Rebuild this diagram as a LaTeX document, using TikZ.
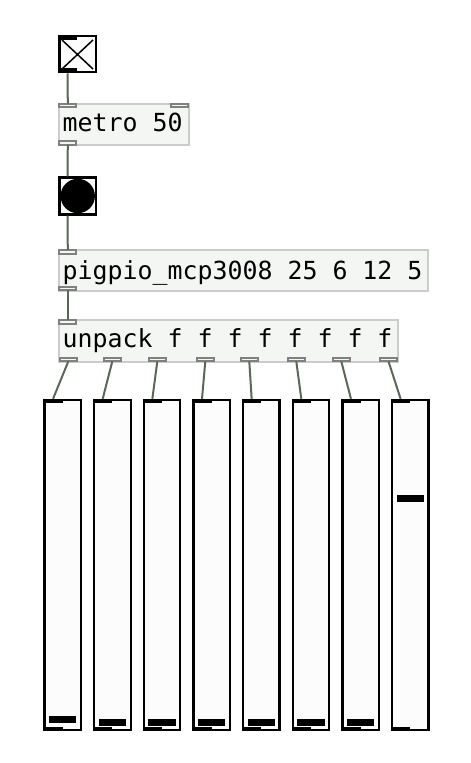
\documentclass[tikz,border=0pt]{standalone}
\usepackage{fontspec}
\newfontfamily\pdmono{DejaVu Sans Mono}
\definecolor{pdwire}{RGB}{90,104,90}
\definecolor{pdborder}{RGB}{204,204,204}
\definecolor{pdfill}{RGB}{244,246,244}
\definecolor{pdio}{RGB}{128,128,128}
\definecolor{guifill}{RGB}{252,252,252}
\begin{document}
\begin{tikzpicture}[x=1pt,y=-1pt,
  box/.style={inner sep=0pt, outer sep=0pt, anchor=north west},
  obj/.style={box, draw=pdborder, fill=pdfill, line width=2pt},
  io/.style={box, draw=pdio, fill=pdfill, line width=2pt, minimum width=17pt, minimum height=3.6pt},
  gui/.style={box, draw=black, fill=guifill, line width=2.3pt},
  bar/.style={box, fill=black, minimum width=19.5pt, minimum height=4.6pt},
  knob/.style={box, fill=black, minimum width=27.3pt, minimum height=6.6pt},
  wire/.style={draw=pdwire, line width=2pt},
  label/.style={anchor=base west, inner sep=0pt, font=\pdmono\fontsize{24.9}{30}\selectfont}
]
\useasboundingbox[fill=white] (0,0) rectangle (471,763);

% toggle
\node[gui, minimum width=36.5pt, minimum height=36pt] (tgl) at (59.5,36) {};
\draw[line width=1.5pt] (62,40) -- (93,69) (93,40) -- (62,69);
\node[bar, minimum width=18.5pt, minimum height=5pt] (tgli) at (58.3,35) {};
\node[bar, minimum width=18.5pt, minimum height=5pt] (tglo) at (58.3,68.3) {};

% metro
\node[obj, minimum width=129.5pt, minimum height=41pt] (metro) at (59,103.5) {};
\node[io] (metroi) at (59.3,103.7) {};
\node[io] (metroi2) at (171,103.7) {};
\node[io] (metroo) at (59.3,141) {};
\node[label] (metrot) at (62.5,131.7) {metro 50};

% bang
\node[gui, minimum width=36.5pt, minimum height=37pt] (bng) at (59.5,177.5) {};
\fill (77.75,196) circle (17.2pt);
\coordinate (bngi) at (67.5,176.3);
\coordinate (bngo) at (67.5,215.7);

% pigpio
\node[obj, minimum width=368.5pt, minimum height=40.5pt] (pig) at (59,250) {};
\node[io] (pigi) at (59.3,250.2) {};
\node[io] (pigo) at (59.3,286.8) {};
\node[label] (pigt) at (62.5,279.5) {pigpio\_mcp3008 25 6 12 5};

% unpack
\node[obj, minimum width=338.5pt, minimum height=41.5pt] (unp) at (59,320) {};
\node[io] (unpi) at (59.3,320.2) {};
\foreach \i/\x in {1/59.8,2/103.8,3/148.8,4/196.8,5/240.8,6/287.8,7/332.8,8/380}{
  \node[io] (u\i) at (\x,357.8) {};
}
\node[label] (unpt) at (62.5,347.5) {unpack f f f f f f f f};

% sliders
\foreach \i in {1,...,8}{
  \pgfmathsetmacro{\sx}{44.5+49.65*(\i-1)}
  \node[gui, minimum width=36.5pt, minimum height=330pt] (s\i) at (\sx,400) {};
  \node[bar] (s\i i) at (\sx-1.2,398.8) {};
  \node[bar] (s\i o) at (\sx-1.2,726.6) {};
}
\foreach \i/\ky in {1/716.2,2/719.2,3/719.2,4/719.2,5/719.2,6/719.2,7/719.2,8/495.2}{
  \pgfmathsetmacro{\sx}{44.5+49.65*(\i-1)+4.6}
  \node[knob] (k\i) at (\sx,\ky) {};
}

% wires
\draw[wire] (tglo.south) -- (metroi.north);
\draw[wire] (metroo.south) -- (bngi);
\draw[wire] (bngo) -- (pigi.north);
\draw[wire] (pigo.south) -- (unpi.north);
\foreach \i in {1,...,8}{
  \draw[wire] (u\i.south) -- (s\i i.north);
}
\end{tikzpicture}
\end{document}
